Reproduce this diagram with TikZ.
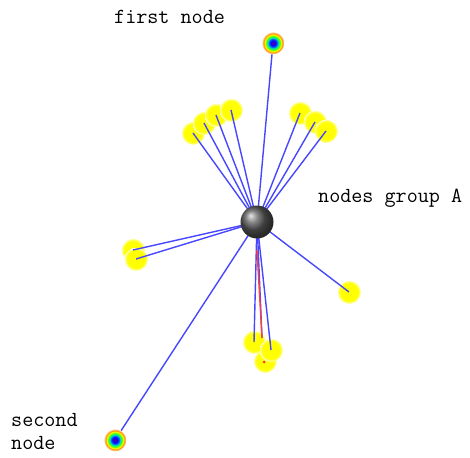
\documentclass[tikz,border=0pt]{standalone}
\usepackage{fontspec}
\pgfdeclareradialshading{hotspot}{\pgfpoint{0bp}{0bp}}{color(0bp)=(violet!80!blue); color(5bp)=(blue!90!violet); color(9bp)=(blue!60!cyan); color(12bp)=(cyan!60!green); color(15bp)=(green!70!yellow); color(18bp)=(yellow); color(21bp)=(orange); color(23bp)=(orange!40); color(25bp)=(white)}
\pgfdeclareradialshading{blobshade}{\pgfpoint{0bp}{0bp}}{color(0bp)=(yellow); color(18bp)=(yellow); color(22bp)=(yellow!60); color(25bp)=(white)}
\tikzset{
  blob/.style={circle, minimum size=24pt, inner sep=0pt, shading=blobshade},
  hot/.style={circle, minimum size=23pt, inner sep=0pt, shading=hotspot},
  hub/.style={circle, minimum size=33pt, inner sep=0pt, ball color=gray!70!black},
  link/.style={draw=blue!72!white, line width=1.4pt},
  redlink/.style={draw=red!75!white, line width=1.4pt},
  lbl/.style={font=\ttfamily\fontsize{21.5}{23}\selectfont, inner sep=0pt, align=left}
}
\begin{document}
\begin{tikzpicture}[x=1pt,y=-1pt]
\useasboundingbox (0,0) rectangle (470,457);
% hub coordinate
\coordinate (c) at (257,222);
\coordinate (fpos) at (273,43);
\coordinate (spos) at (115,440);
% yellow blobs
\node[blob] (t1) at (193,133) {};
\node[blob] (t2) at (204,123) {};
\node[blob] (t3) at (216,115) {};
\node[blob] (t4) at (231,110) {};
\node[blob] (r1) at (300,113) {};
\node[blob] (r2) at (315,122) {};
\node[blob] (r3) at (326,131) {};
\node[blob] (l1) at (133,250) {};
\node[blob] (l2) at (136,259) {};
\node[blob] (e1) at (349,292) {};
\node[blob] (b3) at (265,361) {};
\node[blob] (b1) at (254,342) {};
\node[blob] (b2) at (271,350) {};
\coordinate (bm) at (262,338);
% links
\foreach \n in {t1,t2,t3,t4,r1,r2,r3,l1,l2,e1,b1,b2}
  \draw[link] (c) -- (\n.center);
\draw[link] (c) -- (bm);
\coordinate (rs) at (257,250);
\draw[redlink] (rs) -- (bm);
\node[circle, fill=red!80!white, minimum size=3pt, inner sep=0pt] (rd) at (264,362) {};
% first and second node
\draw[link] (c) -- (fpos);
\draw[link] (c) -- (spos);
\node[hot] (first) at (fpos) {};
\node[hot] (second) at (spos) {};
% hub
\node[hub] (hub) at (c) {};
% labels
\node[lbl, anchor=west] (lfirst) at (114,17) {first node};
\node[lbl, anchor=west] (lgroup) at (318,198) {nodes group A};
\node[lbl, anchor=west] (lsecond) at (11,431) {second\\node};
\end{tikzpicture}
\end{document}
